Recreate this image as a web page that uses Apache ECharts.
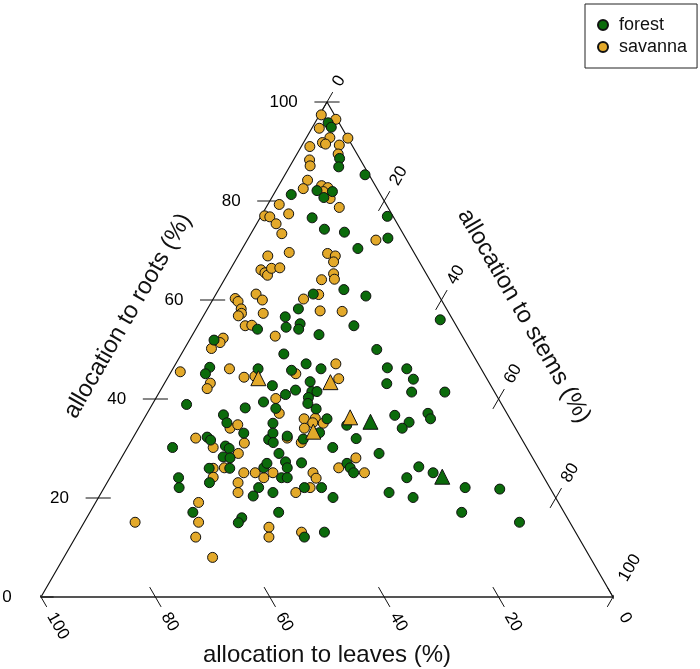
<!DOCTYPE html>
<html><head><meta charset="utf-8">
<script src="https://cdn.jsdelivr.net/npm/echarts@6/dist/echarts.min.js"></script>
<style>html,body{margin:0;padding:0;background:#fff}#c{width:700px;height:669px}</style>
</head><body><div id="c"></div>
<script>
// Ternary data: roots (%) and stems (%); leaves (%) = 100 - roots - stems
const forestRoots = [95.8,94.9,88.6,86.9,85.3,82.1,81.9,80.7,81.3,76.6,76.9,74.3,73.7,70.4,62.1,60.8,61.2,58.2,56.6,54.1,54.5,55.2,54.1,54.8,53.0,51.9,50.0,72.5,56.0,46.4,45.1,46.1,38.9,39.4,38.2,36.8,35.2,33.1,32.3,31.7,30.5,30.0,30.2,31.8,49.1,47.1,46.1,45.8,46.3,46.1,43.1,42.7,43.5,41.8,40.9,41.5,41.5,40.3,39.1,38.1,38.0,36.7,35.3,36.0,33.2,34.7,35.1,33.1,32.5,31.2,31.9,32.0,34.1,30.2,44.0,41.4,41.4,37.1,36.0,26.3,28.3,28.1,26.0,26.0,23.1,24.1,22.1,26.1,22.1,20.4,17.1,16.0,15.0,27.0,29.0,29.0,27.3,26.1,24.1,24.1,27.1,27.0,26.1,25.1,22.1,22.1,21.1,20.1,21.1,24.1,17.1,12.1,13.1,25.1,20.1,22.1,21.8,17.1,15.1];
const forestStems = [2.3,3.3,7.9,8.6,14.0,7.2,10.0,9.1,3.1,9.1,22.1,12.4,16.2,20.2,21.9,26.4,17.0,15.9,14.4,10.8,15.6,17.7,18.0,27.3,22.1,4.3,33.7,24.4,41.8,6.3,6.2,14.9,6.0,19.2,16.6,13.5,14.9,18.9,12.9,13.8,17.0,17.9,7.9,23.9,17.9,22.8,25.9,20.9,37.4,40.9,38.9,19.1,25.3,23.6,22.3,26.6,27.5,26.6,27.1,22.0,29.1,43.5,46.7,32.0,32.1,36.1,23.0,24.0,26.8,25.0,29.9,39.1,46.1,35.9,43.1,44.1,49.9,49.1,50.1,52.9,17.7,19.0,16.4,20.0,17.9,12.0,13.1,25.9,27.0,26.9,18.0,27.1,27.0,26.0,44.6,27.1,29.1,30.0,30.0,31.0,32.0,40.0,41.0,42.1,35.0,38.0,30.0,41.0,50.3,51.9,33.0,40.0,43.0,56.0,55.0,63.1,69.3,65.0,76.1];
const savannaRoots = [97.4,96.5,94.7,92.8,92.7,91.8,91.5,91.3,91.0,89.5,88.3,87.1,84.2,82.5,83.1,82.7,81.9,80.5,79.3,78.7,77.4,77.0,76.8,75.4,73.4,72.1,68.9,69.6,69.4,68.9,67.7,66.1,65.5,65.0,66.4,66.5,65.3,64.2,64.1,61.2,60.0,60.3,59.7,58.2,57.3,56.8,57.3,61.1,60.2,57.8,57.7,54.8,54.9,52.7,52.3,51.4,50.2,45.5,43.2,42.1,46.1,44.4,44.6,34.1,34.8,32.1,31.1,30.2,47.1,45.1,44.1,40.1,37.1,36.0,36.1,35.1,35.2,34.1,32.1,31.2,29.0,26.0,26.1,24.2,25.1,25.1,24.1,23.1,21.1,19.1,15.1,15.1,12.1,8.0,14.1,12.1,25.1,25.1,24.0,26.1,28.1,25.1,22.1,21.1,13.1];
const savannaStems = [0.3,3.3,1.3,4.1,7.3,3.3,4.0,6.5,1.5,7.2,2.8,3.5,4.5,4.6,7.5,8.8,8.4,10.3,2.0,12.8,4.6,0.6,1.6,3.4,5.4,22.5,5.2,8.6,15.4,17.0,17.3,5.4,6.4,7.1,7.1,8.5,18.5,19.2,17.0,7.0,8.7,3.8,4.6,5.9,6.4,6.1,10.2,18.0,15.8,19.9,23.8,8.3,9.4,14.6,5.7,5.6,4.7,1.6,8.0,8.0,9.9,13.3,15.1,16.0,17.0,11.0,20.0,15.0,28.0,22.0,30.0,21.0,23.1,28.0,29.9,31.8,29.9,29.0,27.0,29.9,20.0,17.1,19.0,18.0,22.9,24.9,26.9,22.9,23.9,18.0,20.0,8.9,21.0,26.0,32.8,33.8,28.0,35.0,36.1,39.0,41.0,44.0,36.0,34.0,39.0];
const forestMeanRoots = [35.4, 24.3];
const forestMeanStems = [39.9, 58.0];
const savannaMeanRoots = [44.2, 43.4, 36.3, 33.4];
const savannaMeanStems = [15.9, 28.9, 35.9, 30.9];
const tickValues = [0, 20, 40, 60, 80, 100];
const tickLabels = ['0', '20', '40', '60', '80', '100'];
const groupNames = ['forest', 'savanna'];
const axisTitles = ['allocation to roots (%)', 'allocation to stems (%)', 'allocation to leaves (%)'];

const GREEN = '#0b6b0b', GOLD = '#e3a92a';
const FONT = '"Liberation Sans", Arial, Helvetica, sans-serif';

// ternary (roots, stems) -> cartesian (x, y) in grid data units
function toXY(r, s) { return [s + r / 2, r]; }

const chart = echarts.init(document.getElementById('c'), null, {renderer: 'canvas'});
const series = [];

// frame: right and left edges black, bottom edge grey
series.push({type: 'line', data: [toXY(0, 100), toXY(100, 0), toXY(0, 0)], symbol: 'none', clip: false, silent: true,
  lineStyle: {color: '#111', width: 1.2}, z: 1});
series.push({type: 'line', data: [toXY(0, 0), toXY(0, 100)], symbol: 'none', clip: false, silent: true,
  lineStyle: {color: '#555', width: 2}, z: 1});

// ticks
const d = 2.2;
const tickStyle = {color: '#111', width: 1};
tickValues.forEach(v => {
  series.push({type: 'line', data: [toXY(v, -d), toXY(v, d)], symbol: 'none', clip: false, silent: true, lineStyle: tickStyle});
  series.push({type: 'line', data: [toXY(-2, 100 - v + 2), toXY(2, 100 - v - 2)], symbol: 'none', clip: false, silent: true, lineStyle: tickStyle});
  series.push({type: 'line', data: [toXY(100 - v - 2, v), toXY(100 - v + 2, v)], symbol: 'none', clip: false, silent: true, lineStyle: tickStyle});
});

// tick labels
const lblFont = {fontFamily: FONT, fontSize: 17, color: '#000', opacity: 1, textBorderWidth: 0, textShadowBlur: 0};
const lblItem = {opacity: 1, color: 'transparent'};
series.push({type: 'scatter', symbolSize: 0, clip: false, silent: true, itemStyle: lblItem,
  data: tickValues.map((v, i) => ({value: toXY(v, -5.1), label: {formatter: tickLabels[i]}})),
  label: Object.assign({show: true, position: 'inside', align: 'right', verticalAlign: 'middle'}, lblFont)});
series.push({type: 'scatter', symbolSize: 0, clip: false, silent: true, itemStyle: lblItem,
  data: tickValues.map((v, i) => ({value: toXY(100 - v + 3.4, v), label: {formatter: tickLabels[i]}})),
  label: Object.assign({show: true, position: 'inside', align: 'left', verticalAlign: 'middle', rotate: 60}, lblFont)});
series.push({type: 'scatter', symbolSize: 0, clip: false, silent: true, itemStyle: lblItem,
  data: tickValues.map((v, i) => ({value: toXY(-3.4, 100 - v + 3.4), label: {formatter: tickLabels[i]}})),
  label: Object.assign({show: true, position: 'inside', align: 'left', verticalAlign: 'middle', rotate: -60}, lblFont)});

// data
const pointStyle = c => ({color: c, borderColor: '#111', borderWidth: 1, opacity: 1});
series.push({name: groupNames[1], type: 'scatter', symbol: 'circle', symbolSize: 10, clip: false,
  data: savannaRoots.map((r, i) => toXY(r, savannaStems[i])), itemStyle: pointStyle(GOLD), z: 5});
series.push({name: groupNames[0], type: 'scatter', symbol: 'circle', symbolSize: 10, clip: false,
  data: forestRoots.map((r, i) => toXY(r, forestStems[i])), itemStyle: pointStyle(GREEN), z: 5});
series.push({name: 'savanna mean', type: 'scatter', symbol: 'triangle', symbolSize: 15, clip: false,
  data: savannaMeanRoots.map((r, i) => toXY(r, savannaMeanStems[i])), itemStyle: pointStyle(GOLD), z: 6});
series.push({name: 'forest mean', type: 'scatter', symbol: 'triangle', symbolSize: 15, clip: false,
  data: forestMeanRoots.map((r, i) => toXY(r, forestMeanStems[i])), itemStyle: pointStyle(GREEN), z: 6});

chart.setOption({
  animation: false,
  backgroundColor: '#fff',
  grid: {left: 41, top: 102, width: 572, height: 495},
  xAxis: {type: 'value', min: 0, max: 100, show: false},
  yAxis: {type: 'value', min: 0, max: 100, show: false},
  legend: {
    data: [{name: groupNames[0], icon: 'circle'}, {name: groupNames[1], icon: 'circle'}],
    orient: 'vertical', left: 585, top: 4, padding: [12, 10, 12, 12], itemGap: 4,
    itemWidth: 10, itemHeight: 10, borderColor: '#222', borderWidth: 1, borderRadius: 0,
    selectedMode: false,
    textStyle: {fontFamily: FONT, fontSize: 18, color: '#111', lineHeight: 16, padding: [0, 0, 0, 6]}
  },
  graphic: [
    {type: 'text', x: 128, y: 316, rotation: Math.PI / 3, style: {text: axisTitles[0], font: '24px ' + FONT, fill: '#111', textAlign: 'center', textVerticalAlign: 'middle'}},
    {type: 'text', x: 524, y: 316, rotation: -Math.PI / 3, style: {text: axisTitles[1], font: '24px ' + FONT, fill: '#111', textAlign: 'center', textVerticalAlign: 'middle'}},
    {type: 'text', x: 327, y: 655, style: {text: axisTitles[2], font: '24px ' + FONT, fill: '#111', textAlign: 'center', textVerticalAlign: 'middle'}}
  ],
  series: series
});
</script>
</body></html>
